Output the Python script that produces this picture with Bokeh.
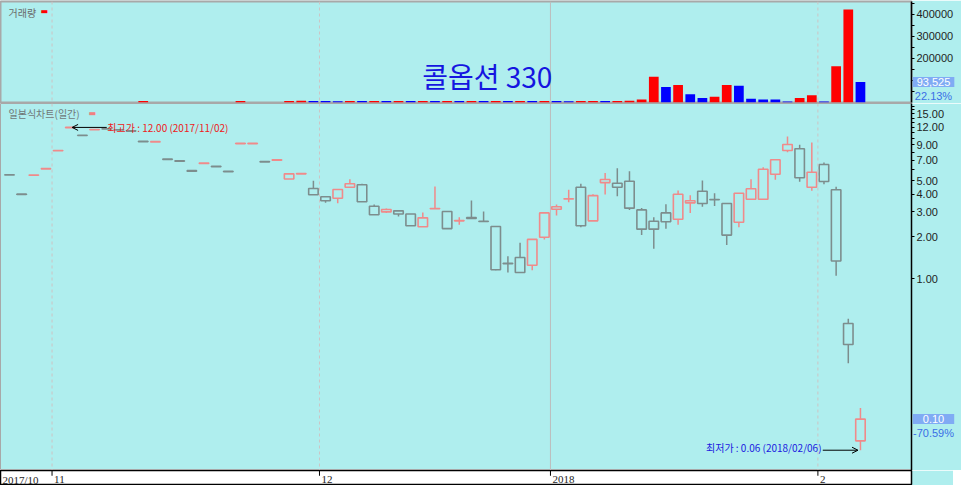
import numpy as np
from bokeh.plotting import figure
from bokeh.layouts import column
from bokeh.models import (Range1d, FixedTicker, PrintfTickFormatter, Span, Label,
                          Arrow, OpenHead, ColumnDataSource)
from bokeh.core.properties import value
from bokeh.embed import file_html
from bokeh.resources import INLINE

# ---------------- data ----------------
dates = [
    "2017-10-26", "2017-10-27", "2017-10-30", "2017-10-31",
    "2017-11-01", "2017-11-02", "2017-11-03", "2017-11-06", "2017-11-07", "2017-11-08",
    "2017-11-09", "2017-11-10", "2017-11-13", "2017-11-14", "2017-11-15", "2017-11-16",
    "2017-11-17", "2017-11-20", "2017-11-21", "2017-11-22", "2017-11-23", "2017-11-24",
    "2017-11-27", "2017-11-28", "2017-11-29", "2017-11-30",
    "2017-12-01", "2017-12-04", "2017-12-05", "2017-12-06", "2017-12-07", "2017-12-08",
    "2017-12-11", "2017-12-12", "2017-12-13", "2017-12-14", "2017-12-15", "2017-12-18",
    "2017-12-19", "2017-12-20", "2017-12-21", "2017-12-22", "2017-12-26", "2017-12-27",
    "2017-12-28",
    "2018-01-02", "2018-01-03", "2018-01-04", "2018-01-05", "2018-01-08", "2018-01-09",
    "2018-01-10", "2018-01-11", "2018-01-12", "2018-01-15", "2018-01-16", "2018-01-17",
    "2018-01-18", "2018-01-19", "2018-01-22", "2018-01-23", "2018-01-24", "2018-01-25",
    "2018-01-26", "2018-01-29", "2018-01-30", "2018-01-31",
    "2018-02-01", "2018-02-02", "2018-02-05", "2018-02-06",
]
opens = [5.52, 4.02, 5.48, 6.08, 8.18, 11.95, 10.55, 11.55, 11.75, 11.55, 11.35,
         9.55, 9.45, 7.15, 6.95, 5.90, 6.65, 6.35, 5.85, 9.20, 9.20, 6.85, 7.00,
         5.15, 5.60, 4.40, 3.85, 3.75, 4.50, 4.68, 3.29, 3.00, 3.05, 2.90, 2.35,
         3.16, 3.02, 2.59, 2.73, 2.57, 2.36, 1.29, 1.42, 1.25, 1.98, 3.13, 3.71,
         4.50, 2.59, 4.85, 4.80, 4.96, 3.10, 2.57, 2.95, 2.66, 3.48, 4.21, 3.67,
         3.44, 2.53, 3.69, 3.69, 5.57, 8.21, 8.45, 4.50, 6.53, 4.31, 0.48, 0.07]
highs = [5.52, 4.02, 5.50, 6.10, 8.20, 12.00, 10.55, 11.60, 11.75, 11.55, 11.35,
         9.55, 9.50, 7.15, 6.95, 5.90, 6.70, 6.35, 5.85, 9.25, 9.25, 6.85, 7.05,
         5.60, 5.63, 5.00, 3.85, 4.33, 5.13, 4.77, 3.39, 3.17, 3.05, 2.90, 2.97,
         4.55, 3.02, 2.75, 3.61, 3.02, 2.36, 1.45, 1.81, 1.91, 2.95, 3.39, 4.31,
         4.76, 4.01, 5.69, 6.14, 5.85, 3.20, 2.75, 3.40, 4.26, 3.94, 5.02, 4.07,
         3.44, 4.07, 5.13, 6.24, 7.05, 10.33, 9.02, 9.36, 6.74, 4.53, 0.52, 0.12]
lows = [5.50, 4.00, 5.48, 6.08, 8.18, 11.95, 10.50, 11.55, 11.70, 11.50, 11.30,
        9.50, 9.45, 7.10, 6.90, 5.85, 6.65, 6.30, 5.80, 9.20, 9.20, 6.80, 7.00,
        5.15, 5.60, 3.97, 3.48, 3.46, 4.50, 3.54, 2.86, 2.94, 2.78, 2.39, 2.35,
        3.16, 2.28, 2.43, 2.69, 2.56, 1.15, 1.11, 1.11, 1.15, 1.91, 2.83, 3.51,
        2.33, 2.59, 3.99, 3.88, 3.10, 2.05, 1.64, 2.27, 2.43, 2.94, 3.27, 3.31,
        1.74, 2.33, 3.69, 3.69, 5.08, 7.99, 4.91, 4.24, 4.72, 1.05, 0.25, 0.06]
closes = [5.50, 4.00, 5.50, 6.10, 8.20, 12.00, 10.50, 11.60, 11.70, 11.50, 11.30,
          9.50, 9.50, 7.10, 6.90, 5.85, 6.70, 6.30, 5.80, 9.25, 9.25, 6.80, 7.05,
          5.60, 5.63, 3.97, 3.60, 4.33, 4.76, 3.54, 2.86, 3.12, 2.90, 2.39, 2.72,
          3.17, 2.28, 2.60, 2.69, 2.56, 1.16, 1.28, 1.11, 1.91, 2.95, 3.26, 3.72,
          2.39, 3.92, 5.10, 4.50, 3.19, 2.26, 2.26, 2.55, 4.01, 3.60, 3.44, 3.66,
          2.05, 4.07, 4.38, 6.04, 7.05, 9.06, 5.25, 5.75, 4.94, 1.34, 0.34, 0.10]
volumes = [0, 0, 0, 0, 0, 0, 0, 0, 0, 0, 0,
           7000, 0, 0, 0, 0, 0, 0, 0, 7000, 0, 0, 0,
           7000, 7500, 7000, 6500, 6000, 7000, 6500, 7000, 6500, 7000, 6500, 7000,
           6500, 7000, 6500, 7000, 6500, 7000, 6500, 7000, 6500, 7000, 6500, 6000,
           6500, 7000, 6500, 7000, 8000, 14000, 117000, 71000, 79000, 38000, 20000, 26000,
           79000, 76000, 17000, 14000, 13500, 5000, 21000, 33000, 5000, 165000, 422600, 93525]

title_text = "콜옵션 330"
volume_title = "거래량"
price_title = "일본식차트(일간)"
price_ticks = [1, 2, 3, 4, 5, 7, 9, 12, 15]
price_minor_ticks = [6, 8, 10, 11, 13, 14, 16, 17]
volume_ticks = [200000, 300000, 400000]
volume_minor_ticks = [50000, 100000, 150000, 250000, 350000, 450000]

# ---------------- styling ----------------
BG = "#AFEEEE"
UP = "#F08A8A"
DN = "#7D8D8D"
W = 911
RB = 42
X0, X1 = -0.74, 74.20
VMAX = 459000
PMIN, PMAX = 0.04301, 17.77
KR = "Noto Sans CJK KR"
LS = "Liberation Sans"

n = len(dates)
xs = list(range(n))
x_range = Range1d(X0, X1)

month_starts = [i for i in range(1, n) if dates[i][:7] != dates[i - 1][:7]]
boundaries = [i - 0.5 for i in month_starts]


def month_label(i):
    y, m = dates[i][:4], dates[i][5:7]
    if i == 0:
        return f"{y}/{m}"
    if m == "01":
        return y
    return str(int(m))


def base_fig(**kw):
    p = figure(x_range=x_range, frame_width=W, output_backend="svg",
               toolbar_location=None, min_border_left=0, min_border_right=RB,
               background_fill_color=BG, border_fill_color=BG, **kw)
    p.xgrid.visible = False
    p.ygrid.visible = False
    return p


def style_axis(ax):
    ax.axis_line_color = "black"
    ax.axis_line_width = 1.5
    ax.major_tick_line_color = "black"
    ax.minor_tick_line_color = "black"
    ax.major_tick_in = 0
    ax.major_tick_out = 3
    ax.minor_tick_in = 0
    ax.minor_tick_out = 3
    ax.major_label_standoff = 2
    ax.major_label_text_font = LS
    ax.major_label_text_font_size = "11px"
    ax.major_label_text_color = "#1E1E1E"


def add_month_lines(p):
    for i, b in zip(month_starts, boundaries):
        if dates[i][5:7] == "01":
            p.add_layout(Span(location=b, dimension="height", line_color="#BDBDBD",
                              line_width=1))
        else:
            p.add_layout(Span(location=b, dimension="height", line_color="#CDC4C4",
                              line_width=1, line_dash="3 3"))


def value_box(p, yv, text, sub):
    # approximate text width of 11px Liberation Sans to stretch the box across the panel
    tw = sum(3.06 if ch in ".,-" else 6.12 for ch in text)
    ph = max(2, int(round((RB - 1 - tw) / 2)))
    p.add_layout(Label(x=X1, y=yv, x_offset=RB / 2 + 1, text=text,
                       text_align="center", text_baseline="middle",
                       text_font=LS, text_font_size="11px",
                       text_color="white", background_fill_color="#80ABF4",
                       padding=dict(left=ph, right=ph, top=1, bottom=1)), "right")
    p.add_layout(Label(x=X1, y=yv, x_offset=RB / 2 + 1, y_offset=-14, text=sub,
                       text_align="center", text_baseline="middle",
                       text_font=LS, text_font_size="11px",
                       text_color="#3A6FE6"), "right")


# ---------------- volume panel ----------------
p_vol = base_fig(frame_height=101, min_border_top=1, min_border_bottom=1,
                 y_range=Range1d(0, VMAX), x_axis_location=None,
                 y_axis_location="right")
p_vol.outline_line_color = "#A8A8A8"
p_vol.outline_line_width = 2
style_axis(p_vol.yaxis[0])
p_vol.yaxis.ticker = FixedTicker(ticks=volume_ticks, minor_ticks=volume_minor_ticks)
p_vol.yaxis.formatter = PrintfTickFormatter(format="%d")
add_month_lines(p_vol)

vx, vt, vc = [], [], []
for i in range(n):
    if volumes[i] > 0:
        prev = volumes[i - 1] if i > 0 else 0
        vx.append(i)
        vt.append(volumes[i])
        vc.append("#FF0000" if volumes[i] > prev else "#0000FF")
p_vol.vbar(x="x", top="top", bottom=0, width=0.8, fill_color="color", line_color=None,
           source=ColumnDataSource(dict(x=vx, top=vt, color=vc)))

p_vol.add_layout(Label(x=X0, y=VMAX, x_offset=8, y_offset=-3, text=volume_title,
                       text_baseline="top", text_font=KR,
                       text_font_size="10px", text_color="#6A6A6A"))
p_vol.add_layout(Label(x=X0, y=VMAX, x_offset=40, y_offset=-5, text="▬",
                       text_baseline="top", text_font="DejaVu Sans",
                       text_font_size="8px", text_color="#FF0000"))
p_vol.add_layout(Label(x=39.3, y=122000, text=title_text, text_align="center",
                       text_baseline="middle", text_font=KR,
                       text_font_size="28px", text_color="#1515E0"))
last_v, prev_v = volumes[-1], volumes[-2]
value_box(p_vol, last_v, f"{last_v:,}", f"{last_v / prev_v * 100:.2f}%")

# ---------------- price panel ----------------
p_price = base_fig(frame_height=367, min_border_top=0, min_border_bottom=0,
                   y_axis_type="log", y_range=Range1d(PMIN, PMAX),
                   x_axis_location=None, y_axis_location="right")
p_price.outline_line_color = "#A8A8A8"
style_axis(p_price.yaxis[0])
p_price.yaxis.ticker = FixedTicker(ticks=price_ticks, minor_ticks=price_minor_ticks)
p_price.yaxis.formatter = PrintfTickFormatter(format="%.2f")
add_month_lines(p_price)

btop = [max(o, c) for o, c in zip(opens, closes)]
bbot = [min(o, c) for o, c in zip(opens, closes)]
ccol = [UP if c > o else DN for o, c in zip(opens, closes)]
src = ColumnDataSource(dict(x=xs, high=highs, low=lows, top=btop, bottom=bbot, color=ccol))
p_price.segment(x0="x", y0="high", x1="x", y1="top", line_color="color", line_width=1.5,
                source=src)
p_price.segment(x0="x", y0="bottom", x1="x", y1="low", line_color="color", line_width=1.5,
                source=src)
p_price.vbar(x="x", top="top", bottom="bottom", width=0.78, fill_alpha=0,
             line_color="color", line_width=1.6, source=src)

p_price.add_layout(Label(x=X0, y=PMAX, x_offset=8, y_offset=-2, text=price_title,
                         text_baseline="top", text_font=KR,
                         text_font_size="10px", text_color="#707878"))
p_price.add_layout(Label(x=X0, y=PMAX, x_offset=88, y_offset=-5, text="▬",
                         text_baseline="top", text_font="DejaVu Sans",
                         text_font_size="8px", text_color="#F08080"))

i_max = int(np.argmax(highs))
i_min = int(np.argmin(lows))
d_max = dates[i_max].replace("-", "/")
d_min = dates[i_min].replace("-", "/")
p_price.add_layout(Arrow(end=OpenHead(size=6, line_width=1, line_color="black"),
                         x_start=i_max + 3.0, y_start=highs[i_max],
                         x_end=i_max + 0.15, y_end=highs[i_max],
                         line_color="black", line_width=1))
p_price.add_layout(Label(x=i_max + 3.05, y=highs[i_max],
                         text=f"최고가 : {highs[i_max]:.2f} ({d_max})",
                         text_baseline="middle", text_align="left",
                         text_font=KR, text_font_size="10px",
                         text_color="#EE2020"))
p_price.add_layout(Arrow(end=OpenHead(size=6, line_width=1, line_color="black"),
                         x_start=i_min - 3.1, y_start=lows[i_min],
                         x_end=i_min - 0.2, y_end=lows[i_min],
                         line_color="black", line_width=1))
p_price.add_layout(Label(x=i_min - 3.2, y=lows[i_min], y_offset=3,
                         text=f"최저가 : {lows[i_min]:.2f} ({d_min})",
                         text_baseline="middle", text_align="right",
                         text_font=KR, text_font_size="10px",
                         text_color="#2020E0"))

last_c, prev_c = closes[-1], closes[-2]
value_box(p_price, last_c, f"{last_c:.2f}", f"{(last_c / prev_c - 1) * 100:.2f}%")

# ---------------- date band ----------------
p_axis = base_fig(frame_height=15, min_border_top=0, min_border_bottom=0,
                  y_range=Range1d(0, 1), x_axis_location=None, y_axis_location=None)
p_axis.background_fill_color = "white"
p_axis.outline_line_color = "black"
p_axis.outline_line_width = 1.5
lab_x = [X0] + boundaries
lab_t = [month_label(0)] + [month_label(i) for i in month_starts]
lab_off = [2] + [2] * len(boundaries)
p_axis.text(x=lab_x, y=[0.4] * len(lab_x), text=lab_t, x_offset=lab_off,
            text_baseline="middle", text_align="left",
            text_font=value("Liberation Sans Narrow"), text_font_size="11px",
            text_color="#1E1E1E")
p_axis.segment(x0=boundaries, y0=[1] * len(boundaries), x1=boundaries,
               y1=[0.65] * len(boundaries), line_color="black", line_width=1)

layout = column(p_vol, p_price, p_axis, spacing=0)
open("out.html", "w").write(file_html(layout, INLINE))
